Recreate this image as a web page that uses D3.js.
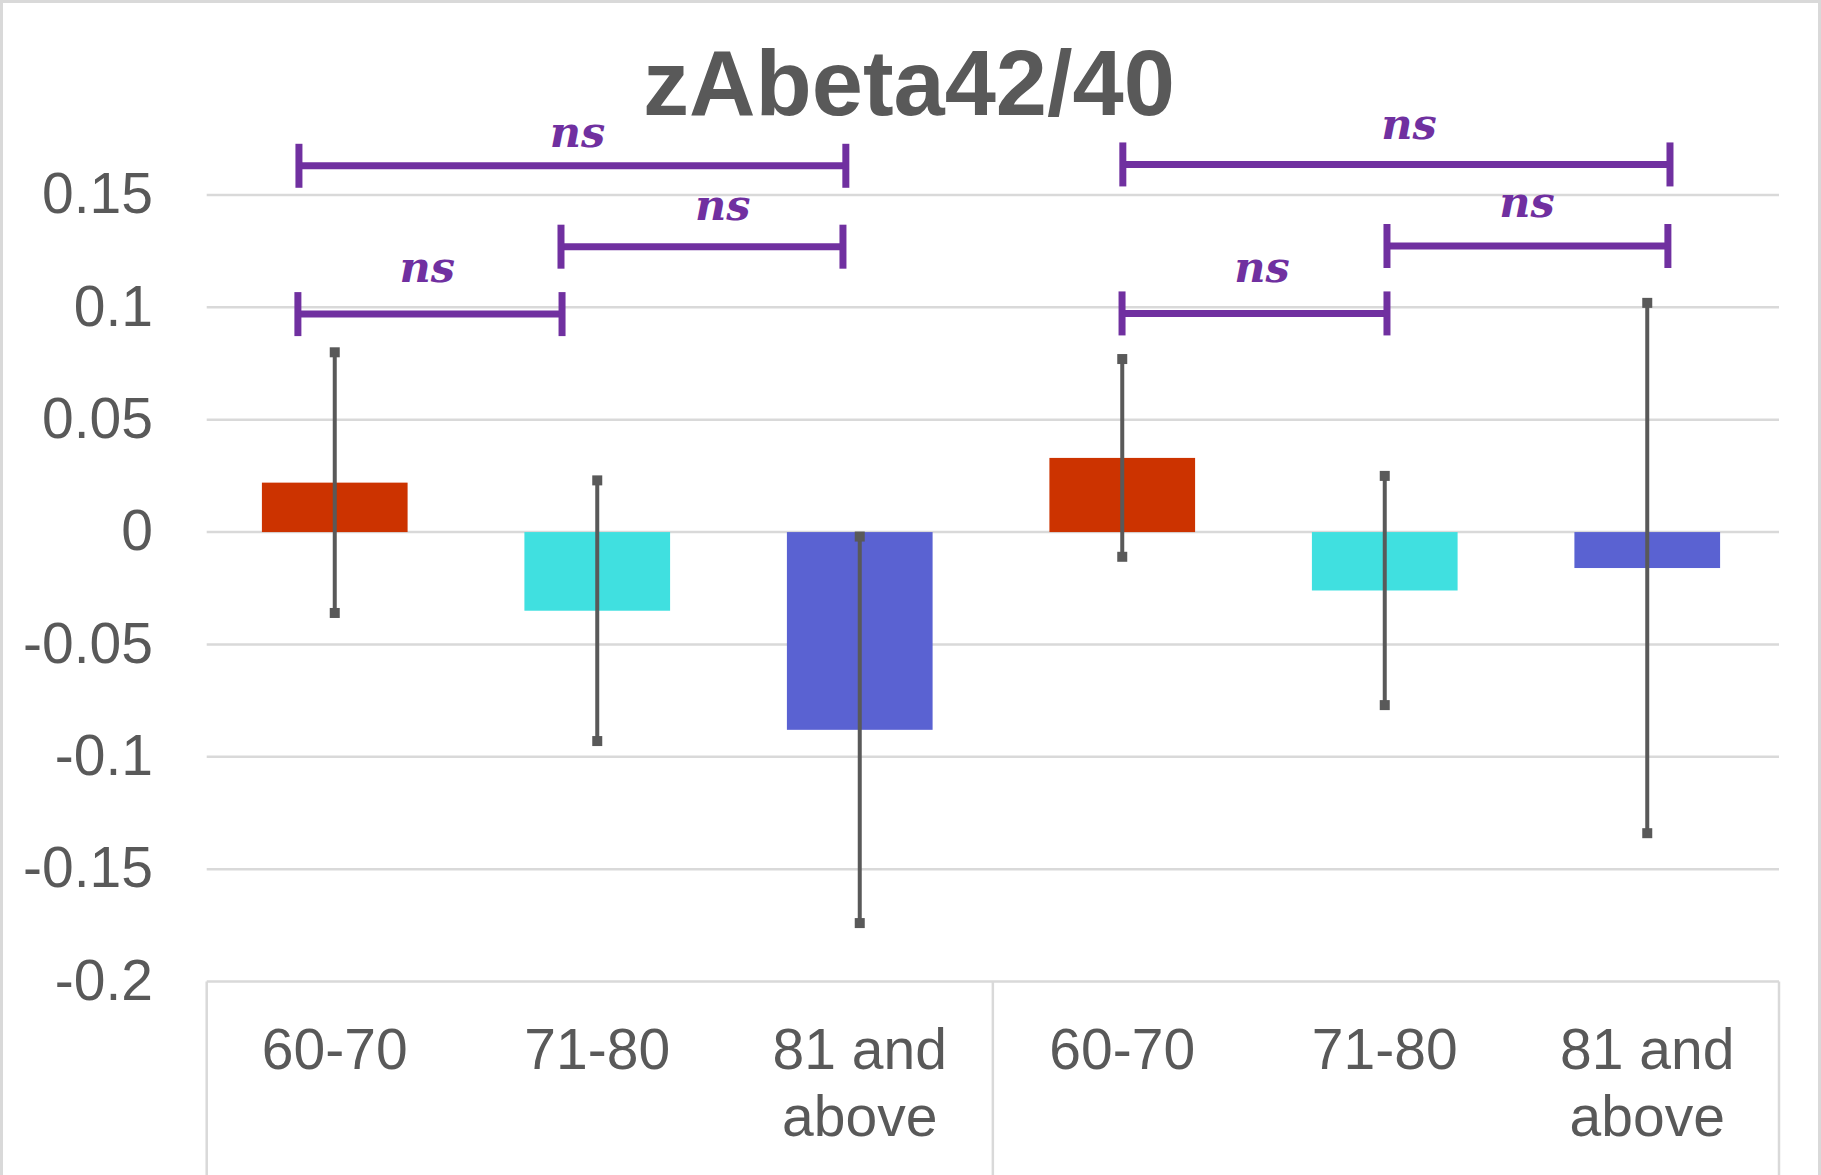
<!DOCTYPE html>
<html>
<head>
<meta charset="utf-8">
<script src="https://cdn.jsdelivr.net/npm/d3@7"></script>
<style>
  html, body { margin: 0; padding: 0; background: #ffffff; }
  svg { display: block; }
</style>
</head>
<body>
<svg id="chart" width="1821" height="1175"></svg>
<script>
// ---------------- data ----------------
const title = "zAbeta42/40";
const categories = ["60-70", "71-80", "81 and above", "60-70", "71-80", "81 and above"];
const categoryLines = [["60-70"], ["71-80"], ["81 and", "above"], ["60-70"], ["71-80"], ["81 and", "above"]];
const values = [0.022, -0.035, -0.088, 0.033, -0.026, -0.016];
const errors = [0.058, 0.058, 0.086, 0.044, 0.051, 0.118];
const barColors = ["#CC3300", "#40E0E0", "#5A62D2", "#CC3300", "#40E0E0", "#5A62D2"];
const yTicks = [0.15, 0.1, 0.05, 0, -0.05, -0.1, -0.15, -0.2];
const yTickLabels = ["0.15", "0.1", "0.05", "0", "-0.05", "-0.1", "-0.15", "-0.2"];
// significance brackets: start / end in category units (0..6), level in data units
const bracketFrom = [0.352, 1.352, 0.348, 3.496, 4.504, 3.493];
const bracketTo   = [2.439, 2.428, 1.356, 5.584, 5.576, 4.504];
const bracketLevel = [0.163, 0.127, 0.097, 0.1636, 0.1273, 0.0973];
const bracketLabel = ["ns", "ns", "ns", "ns", "ns", "ns"];
const bracketLabelAt = [1.415, 1.969, 0.842, 4.588, 5.038, 4.027];      // category units
const bracketLabelLevel = [0.1714, 0.1390, 0.1111, 0.1751, 0.1403, 0.1114]; // data units

// ---------------- layout ----------------
const W = 1821, H = 1175;
const plotLeft = 206.7, plotRight = 1779;
const yTop = 195, yBottom = 981.5;
const svg = d3.select("#chart");
const font = "'Liberation Sans', Arial, sans-serif";
const grey = "#595959";
const gridColor = "#d9d9d9";

// outer border
svg.append("rect").attr("x", 1.5).attr("y", 1.5).attr("width", W - 3).attr("height", H)
  .attr("fill", "none").attr("stroke", "#d9d9d9").attr("stroke-width", 3);

const x = d3.scaleBand().domain(d3.range(categories.length)).range([203.5, 1778.5])
  .paddingInner(0.445).paddingOuter(0.2225);
const xc = d3.scaleLinear().domain([0, categories.length]).range([plotLeft, plotRight]);
const y = d3.scaleLinear().domain([-0.2, 0.15]).range([yBottom, yTop]);

// gridlines
svg.append("g").selectAll("line").data(yTicks).join("line")
  .attr("x1", plotLeft).attr("x2", plotRight)
  .attr("y1", d => y(d)).attr("y2", d => y(d))
  .attr("stroke", gridColor).attr("stroke-width", 2.5);

// y axis labels
const yAxis = d3.axisLeft(y).tickValues(yTicks)
  .tickFormat((d, i) => yTickLabels[i]).tickSize(0).tickPadding(0);
const gy = svg.append("g").attr("transform", `translate(153,0)`).call(yAxis);
gy.select(".domain").remove();
gy.selectAll("text").attr("font-family", font).attr("font-size", 57)
  .attr("fill", grey).attr("dy", "0.31em");

// category axis box
const boxBottom = H;
[0, 3, 6].forEach(k => {
  svg.append("line").attr("x1", xc(k)).attr("x2", xc(k))
    .attr("y1", yBottom).attr("y2", boxBottom)
    .attr("stroke", gridColor).attr("stroke-width", 2.5);
});

// bars
svg.append("g").selectAll("rect").data(values).join("rect")
  .attr("x", (d, i) => x(i))
  .attr("width", x.bandwidth())
  .attr("y", d => y(Math.max(0, d)))
  .attr("height", d => Math.abs(y(d) - y(0)))
  .attr("fill", (d, i) => barColors[i]);

// error bars
const eb = svg.append("g");
values.forEach((v, i) => {
  const cx = x(i) + x.bandwidth() / 2;
  const hi = y(v + errors[i]), lo = y(v - errors[i]);
  eb.append("line").attr("x1", cx).attr("x2", cx).attr("y1", hi).attr("y2", lo)
    .attr("stroke", grey).attr("stroke-width", 4);
  [hi, lo].forEach(yy => {
    eb.append("rect").attr("x", cx - 5).attr("y", yy - 5)
      .attr("width", 10).attr("height", 10).attr("fill", grey);
  });
});

// category labels
const gx = svg.append("g");
categoryLines.forEach((lines, i) => {
  const cx = x(i) + x.bandwidth() / 2;
  const t = gx.append("text").attr("x", cx).attr("y", 1069)
    .attr("text-anchor", "middle").attr("font-family", font)
    .attr("font-size", 57).attr("fill", grey);
  lines.forEach((ln, j) => {
    t.append("tspan").attr("x", cx).attr("dy", j === 0 ? 0 : 67).text(ln);
  });
});

// significance brackets
const purple = "#7030A0";
const gb = svg.append("g");
bracketFrom.forEach((f, i) => {
  const x1 = xc(f), x2 = xc(bracketTo[i]), yy = y(bracketLevel[i]);
  gb.append("line").attr("x1", x1).attr("x2", x2).attr("y1", yy).attr("y2", yy)
    .attr("stroke", purple).attr("stroke-width", 7);
  [x1, x2].forEach(xx => {
    gb.append("line").attr("x1", xx).attr("x2", xx).attr("y1", yy - 22).attr("y2", yy + 22)
      .attr("stroke", purple).attr("stroke-width", 7);
  });
  gb.append("text").attr("x", xc(bracketLabelAt[i]))
    .attr("y", y(bracketLabelLevel[i]))
    .attr("text-anchor", "middle")
    .attr("font-family", "'DejaVu Serif', serif").attr("font-weight", "bold")
    .attr("font-style", "italic").attr("font-size", 43).attr("fill", purple)
    .text(bracketLabel[i]);
});

// title
svg.append("text").attr("x", 909).attr("y", 115).attr("text-anchor", "middle")
  .attr("font-family", font).attr("font-weight", "bold").attr("font-size", 92)
  .attr("fill", grey).text(title);
</script>
</body>
</html>
